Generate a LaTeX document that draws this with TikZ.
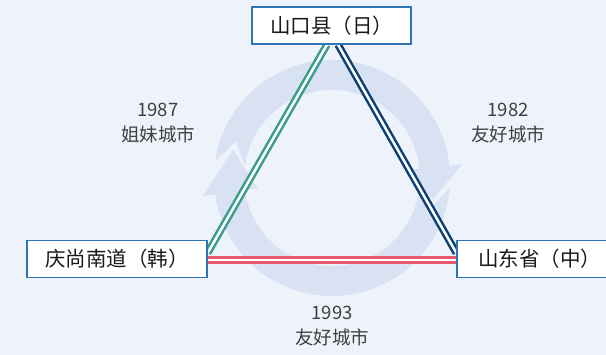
\documentclass[tikz,border=0pt]{standalone}
\usepackage{fontspec}
\setmainfont{Noto Sans CJK SC}
\newfontfamily\cjk{Noto Sans CJK SC}
\definecolor{bgc}{HTML}{EEF3FB}
\definecolor{ringc}{HTML}{D9E2F3}
\definecolor{boxc}{HTML}{2E75B6}
\definecolor{greenc}{HTML}{3A9D8A}
\definecolor{navyc}{HTML}{0D3F74}
\definecolor{rosec}{HTML}{E8596E}
\definecolor{txtc}{HTML}{1A1A1A}
\definecolor{lblc}{HTML}{404040}
\pgfdeclarelayer{back}
\pgfdeclarelayer{mid}
\pgfsetlayers{back,mid,main}
\begin{document}
\begin{tikzpicture}[x=1pt,y=1pt,
  place/.style={draw=boxc, line width=1.3pt, fill=white, text=txtc,
    font=\cjk\fontsize{20.5}{24}\selectfont, inner sep=0pt, minimum height=37pt},
  lbl/.style={text=lblc, align=center, font=\cjk\fontsize{18.5}{25}\selectfont},
  link/.style={draw=#1, double=white, line width=2.5pt, double distance=2.5pt},
  ringpart/.style={fill=ringc, draw=none}]
\useasboundingbox (0,0) rectangle (606,355);
\begin{pgfonlayer}{back}
\fill[bgc] (0,0) rectangle (606,355);
\begin{scope}[shift={(332,177)}]
\fill[ringpart] (172:118) arc[start angle=172, end angle=6, radius=118]
  -- (6:131) -- (-12:103) -- (6:75) -- (6:88)
  arc[start angle=6, end angle=172, radius=88] -- (159:103) -- cycle;
\fill[ringpart] (-5:118) arc[start angle=-5, end angle=-172, radius=118]
  -- (-172:131) -- (-196:103) -- (-172:75) -- (-172:88)
  arc[start angle=-172, end angle=-5, radius=88] -- (-17:103) -- cycle;
\end{scope}
\end{pgfonlayer}

\node[place, minimum width=159pt] (top) at (331.5,329.5) {山口县（日）};
\node[place, minimum width=180pt] (left) at (117,96) {庆尚南道（韩）};
\node[place, minimum width=165pt] (right) at (539.5,96) {山东省（中）};

\begin{pgfonlayer}{mid}
\draw[link=greenc] ([xshift=-4.5pt]top.south) -- ([yshift=6pt]left.east);
\draw[link=navyc] ([xshift=6.5pt]top.south) -- ([yshift=6pt]right.west);
\draw[link=rosec] ([yshift=-1pt]left.east) -- ([yshift=-1pt]right.west);
\end{pgfonlayer}

\node[lbl] (l1) at (158,232) {1987\\姐妹城市};
\node[lbl] (l2) at (508,232) {1982\\友好城市};
\node[lbl] (l3) at (332,29) {1993\\友好城市};
\end{tikzpicture}
\end{document}
